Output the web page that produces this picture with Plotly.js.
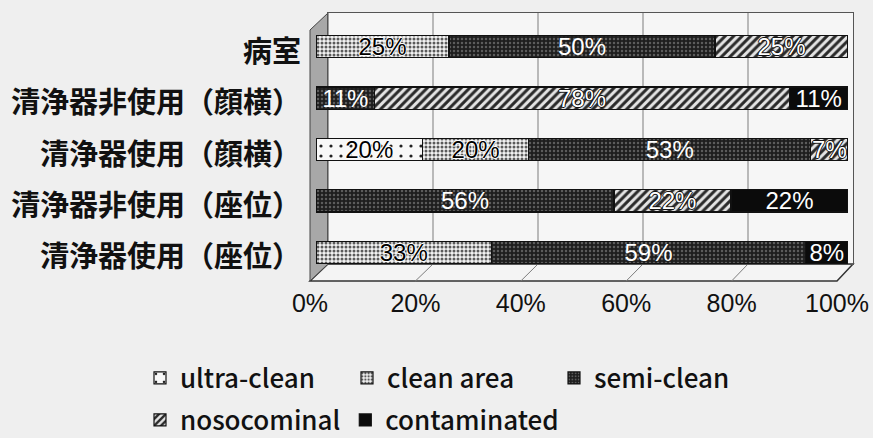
<!DOCTYPE html>
<html>
<head>
<meta charset="utf-8">
<script src="https://cdn.plot.ly/plotly-3.0.1.min.js"></script>
<style>
  html, body { margin: 0; padding: 0; background: #efefef; overflow: hidden; }
  html { height: 438px; }
  #chart { width: 873px; height: 480px; }
</style>
</head>
<body>
<div id="chart"></div>
<script>
// Categories (top to bottom) and the share of each cleanliness class (%)
const categories = [
  '病室',
  '清浄器非使用（顔横）',
  '清浄器使用（顔横）',
  '清浄器非使用（座位）',
  '清浄器使用（座位）'
];
const seriesNames = ['ultra-clean', 'clean area', 'semi-clean', 'nosocominal', 'contaminated'];
const ultraClean   = [0, 0, 20, 0, 0];
const cleanArea    = [25, 0, 20, 0, 33];
const semiClean    = [50, 11, 53, 56, 59];
const nosocominal  = [25, 78, 7, 22, 0];
const contaminated = [0, 11, 0, 22, 8];

const tickValues = [0, 20, 40, 60, 80, 100];
const tickLabels = ['0%', '20%', '40%', '60%', '80%', '100%'];

// ---- page geometry (pixels); the figure runs a little past the visible
// window so the second legend row is not pushed up by the legend clamp ----
const W = 873, H = 480;
const px = x => x / W;
const py = y => 1 - y / H;

// pseudo-3D box: back wall, front floor edge and the plane the bars sit in
const back  = { x0: 328, x1: 853, y0: 13, y1: 264 };
const front = { x0: 310, x1: 837, y: 281 };
const barPlane = { x0: 316, x1: 848, y0: 21, y1: 278 };

const numFont = "'Liberation Sans', Arial, sans-serif";
const cjkFont = "'Noto Sans CJK JP', 'Noto Sans', sans-serif";

const whiteHalo = '1px 0 0 #fff, -1px 0 0 #fff, 0 1px 0 #fff, 0 -1px 0 #fff';
const darkHalo  = '1px 0 0 #111, -1px 0 0 #111, 0 1px 0 #111, 0 -1px 0 #111';

const seriesStyles = [
  { pattern: { shape: '.', bgcolor: '#f8f8f8', fgcolor: '#222', size: 10, solidity: 0.08 }, text: '#000', shadow: whiteHalo },
  { pattern: { shape: '.', bgcolor: '#f2f2f2', fgcolor: '#5a5a5a', size: 4, solidity: 0.45 }, text: '#000', shadow: whiteHalo },
  { pattern: { shape: '.', bgcolor: '#1e1e1e', fgcolor: '#5c5c5c', size: 4, solidity: 0.3 }, text: '#fff', shadow: 'none' },
  { pattern: { shape: '/', bgcolor: '#e4e4e4', fgcolor: '#2a2a2a', size: 6, solidity: 0.5 }, text: '#fff', shadow: darkHalo },
  { color: '#0b0b0b', text: '#fff', shadow: 'none' }
];

const seriesValues = [ultraClean, cleanArea, semiClean, nosocominal, contaminated];

// empty helpers so the back-wall frame and the front-edge axis are drawn
const helperTraces = [['x', 'y'], ['x3', 'y3']].map(([xa, ya]) => ({
  type: 'scatter', mode: 'markers', x: [null], y: [null],
  xaxis: xa, yaxis: ya, showlegend: false, hoverinfo: 'skip'
}));

const barTraces = seriesValues.map((vals, i) => {
  const st = seriesStyles[i];
  const marker = { color: st.color || st.pattern.bgcolor, line: { color: '#111', width: 1.2 } };
  if (st.pattern) marker.pattern = st.pattern;
  return {
    type: 'bar',
    orientation: 'h',
    name: seriesNames[i],
    x: vals,
    y: categories,
    xaxis: 'x2',
    yaxis: 'y2',
    text: vals.map(v => (v > 0 ? v + '%' : '')),
    textposition: 'inside',
    insidetextanchor: 'middle',
    constraintext: 'none',
    textangle: 0,
    textfont: { family: numFont, size: 24, color: st.text, shadow: st.shadow },
    marker: marker,
    hoverinfo: 'skip',
    legend: i < 3 ? 'legend' : 'legend2'
  };
});

// ---- decorative box: back wall, floor, side wall, gridlines, floor tick guides ----
const depthY = front.y - back.y1;
const backX = v => back.x0 + (back.x1 - back.x0) * v / 100;
const frontX = v => front.x0 + (front.x1 - front.x0) * v / 100;

const shapes = [
  {
    type: 'rect', xref: 'paper', yref: 'paper', layer: 'below',
    x0: px(back.x0), x1: px(back.x1), y0: py(back.y1), y1: py(back.y0),
    fillcolor: '#f6f6f6', line: { width: 0 }
  },
  {
    type: 'path', xref: 'paper', yref: 'paper', layer: 'below',
    path: `M${px(front.x0)},${py(front.y)} L${px(front.x1)},${py(front.y)} L${px(back.x1)},${py(back.y1)} L${px(back.x0)},${py(back.y1)} Z`,
    fillcolor: '#f4f4f4', line: { color: '#333', width: 1.5 }
  },
  {
    type: 'path', xref: 'paper', yref: 'paper', layer: 'below',
    path: `M${px(front.x0)},${py(back.y0 + depthY)} L${px(back.x0)},${py(back.y0)} L${px(back.x0)},${py(back.y1)} L${px(front.x0)},${py(front.y)} Z`,
    fillcolor: '#a8a8a8', line: { color: '#444', width: 1 }
  }
];
tickValues.slice(1, -1).forEach(v => {
  // gridline on the back wall
  shapes.push({
    type: 'line', xref: 'paper', yref: 'paper', layer: 'below',
    x0: px(backX(v)), y0: py(back.y0), x1: px(backX(v)), y1: py(back.y1),
    line: { color: '#7d7d7d', width: 1 }
  });
  // its continuation across the floor
  shapes.push({
    type: 'line', xref: 'paper', yref: 'paper', layer: 'below',
    x0: px(backX(v)), y0: py(back.y1), x1: px(frontX(v)), y1: py(front.y),
    line: { color: '#7d7d7d', width: 1 }
  });
});

const legendBase = {
  orientation: 'h',
  xanchor: 'left',
  yanchor: 'middle',
  x: px(140),
  bgcolor: 'rgba(0,0,0,0)',
  font: { family: cjkFont, size: 26, color: '#111', weight: 500 },
  itemclick: false,
  itemdoubleclick: false,
  traceorder: 'normal'
};

const layout = {
  width: W,
  height: H,
  margin: { l: 0, r: 0, t: 0, b: 0 },
  paper_bgcolor: '#efefef',
  plot_bgcolor: 'rgba(0,0,0,0)',
  barmode: 'stack',
  bargap: 0.57,
  showlegend: true,
  // back wall frame
  xaxis: {
    domain: [px(back.x0), px(back.x1)], range: [0, 100], anchor: 'y',
    showticklabels: false, ticks: '', showgrid: false,
    zeroline: false, showline: true, mirror: true, linecolor: '#555', fixedrange: true
  },
  yaxis: {
    domain: [py(back.y1), py(back.y0)], range: [0, 1], anchor: 'x',
    showgrid: false, showticklabels: false, ticks: '',
    zeroline: false, showline: true, mirror: true, linecolor: '#555', fixedrange: true
  },
  // bar plane
  xaxis2: {
    domain: [px(barPlane.x0), px(barPlane.x1)], range: [0, 100], anchor: 'y2',
    visible: false, fixedrange: true
  },
  yaxis2: {
    domain: [py(barPlane.y1), py(barPlane.y0)], anchor: 'x2',
    type: 'category', categoryarray: categories, range: [4.5, -0.5],
    showgrid: false, zeroline: false, showline: false, ticks: '',
    ticklabelstandoff: 14,
    ticklabelshift: -5,
    tickfont: { family: cjkFont, size: 29, color: '#111', weight: 'bold' },
    fixedrange: true
  },
  // front floor edge carrying the percentage labels
  xaxis3: {
    domain: [px(front.x0), px(front.x1)], range: [0, 100], anchor: 'y3',
    tickvals: tickValues, ticktext: tickLabels, ticks: '',
    showgrid: false, zeroline: false, showline: false,
    ticklabelstandoff: 4,
    tickfont: { family: numFont, size: 25, color: '#111' },
    fixedrange: true
  },
  yaxis3: {
    domain: [py(front.y + 1), py(front.y)], range: [0, 1], anchor: 'x3',
    visible: false, fixedrange: true
  },
  legend: Object.assign({}, legendBase, { y: py(378), entrywidth: 162 }),
  legend2: Object.assign({}, legendBase, { y: py(420) }),
  shapes: shapes
};

Plotly.newPlot('chart', helperTraces.concat(barTraces), layout, { displayModeBar: false, staticPlot: true });
</script>
</body>
</html>
